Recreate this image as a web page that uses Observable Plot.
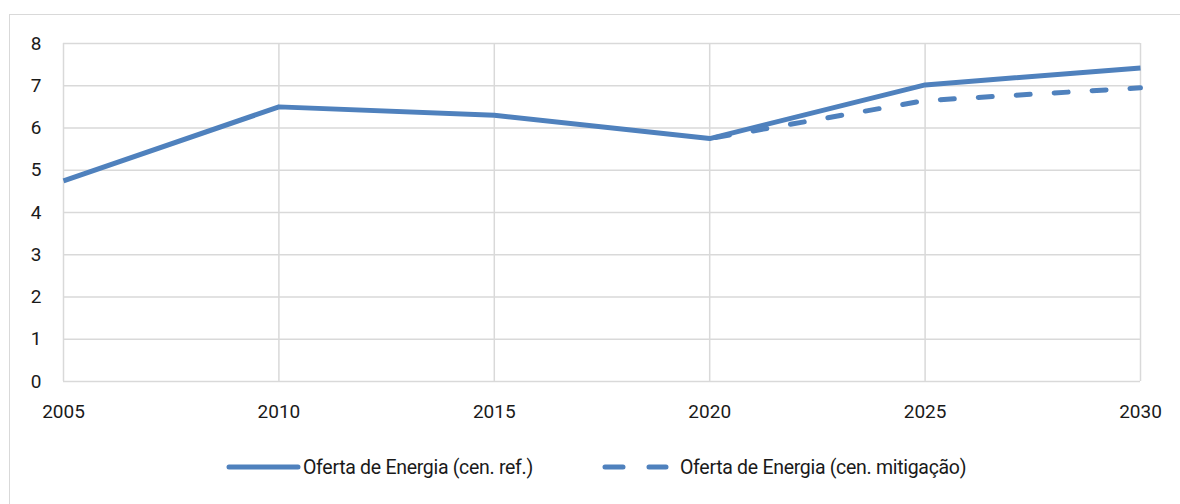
<!DOCTYPE html>
<html>
<head>
<meta charset="utf-8">
<script src="https://cdn.jsdelivr.net/npm/d3@7"></script>
<script src="https://cdn.jsdelivr.net/npm/@observablehq/plot@0.6"></script>
<style>
  html, body { margin: 0; padding: 0; background: #fff; width: 1180px; height: 504px; overflow: hidden; }
  #frame { position: absolute; left: 9px; top: 14px; width: 1200px; height: 520px; border: 1.5px solid #d9d9d9; box-sizing: border-box; }
  #chart { position: absolute; left: 0; top: 0; }
  #legend { position: absolute; top: 455px; left: 0; width: 1180px; font-family: Roboto, "Open Sans", sans-serif; font-size: 19.5px; color: #1a1a1a; }
  .item { position: absolute; top: 0; display: flex; align-items: center; height: 24px; white-space: nowrap; letter-spacing: -0.3px; }
</style>
</head>
<body>
<div id="frame"></div>
<div id="chart"></div>
<div id="legend"></div>
<script>
const years = [2005, 2010, 2015, 2020, 2025, 2030];
const refValues = [4.75, 6.5, 6.3, 5.75, 7.02, 7.42];
const mitYears = [2020, 2025, 2030];
const mitValues = [5.75, 6.65, 6.95];
const yTicks = [0, 1, 2, 3, 4, 5, 6, 7, 8];
const seriesNames = ["Oferta de Energia (cen. ref.)", "Oferta de Energia (cen. mitigação)"];
const color = "#4f81bd";
const gridColor = "#d9d9d9";

const refData = years.map((y, i) => ({year: y, value: refValues[i]}));
const mitData = mitYears.map((y, i) => ({year: y, value: mitValues[i]}));

const chart = Plot.plot({
  width: 1180,
  height: 430,
  marginLeft: 63,
  marginRight: 40,
  marginTop: 43,
  marginBottom: 49,
  style: { fontFamily: "Roboto, 'Open Sans', sans-serif", fontSize: "19px", color: "#1a1a1a", background: "transparent" },
  x: { domain: [2005, 2030], ticks: years, tickFormat: d3.format("d"), label: null },
  y: { domain: [0, 8], ticks: yTicks, label: null },
  marks: [
    Plot.gridX(years, { stroke: gridColor, strokeOpacity: 1, strokeWidth: 1.5 }),
    Plot.gridY(yTicks, { stroke: gridColor, strokeOpacity: 1, strokeWidth: 1.5 }),
    Plot.axisX({ ticks: years, tickSize: 0, tickPadding: 23, tickFormat: d3.format("d"), fontSize: 19, label: null }),
    Plot.axisY({ ticks: yTicks, tickSize: 0, tickPadding: 22, fontSize: 19, label: null }),
    Plot.line(mitData, { x: "year", y: "value", stroke: color, strokeWidth: 5, strokeDasharray: "14,24", strokeLinecap: "round", strokeDashoffset: -6 }),
    Plot.line(refData, { x: "year", y: "value", stroke: color, strokeWidth: 5, strokeLinecap: "butt", strokeLinejoin: "round" })
  ]
});
document.getElementById("chart").appendChild(chart);

const legend = document.getElementById("legend");
const items = [
  { left: 226, name: seriesNames[0], dash: null, w: 69, gap: 2 },
  { left: 602, name: seriesNames[1], dash: "18,26", w: 61, gap: 11 }
];
items.forEach(it => {
  const div = document.createElement("div");
  div.className = "item";
  div.style.left = it.left + "px";
  const sw = `<svg width="${it.w + 6}" height="24" style="margin-right:${it.gap}px"><line x1="3" x2="${it.w + 3}" y1="12" y2="12" stroke="${color}" stroke-width="5" stroke-linecap="round" ${it.dash ? `stroke-dasharray="${it.dash}"` : ""}/></svg>`;
  div.innerHTML = sw + `<span>${it.name}</span>`;
  legend.appendChild(div);
});
</script>
</body>
</html>
